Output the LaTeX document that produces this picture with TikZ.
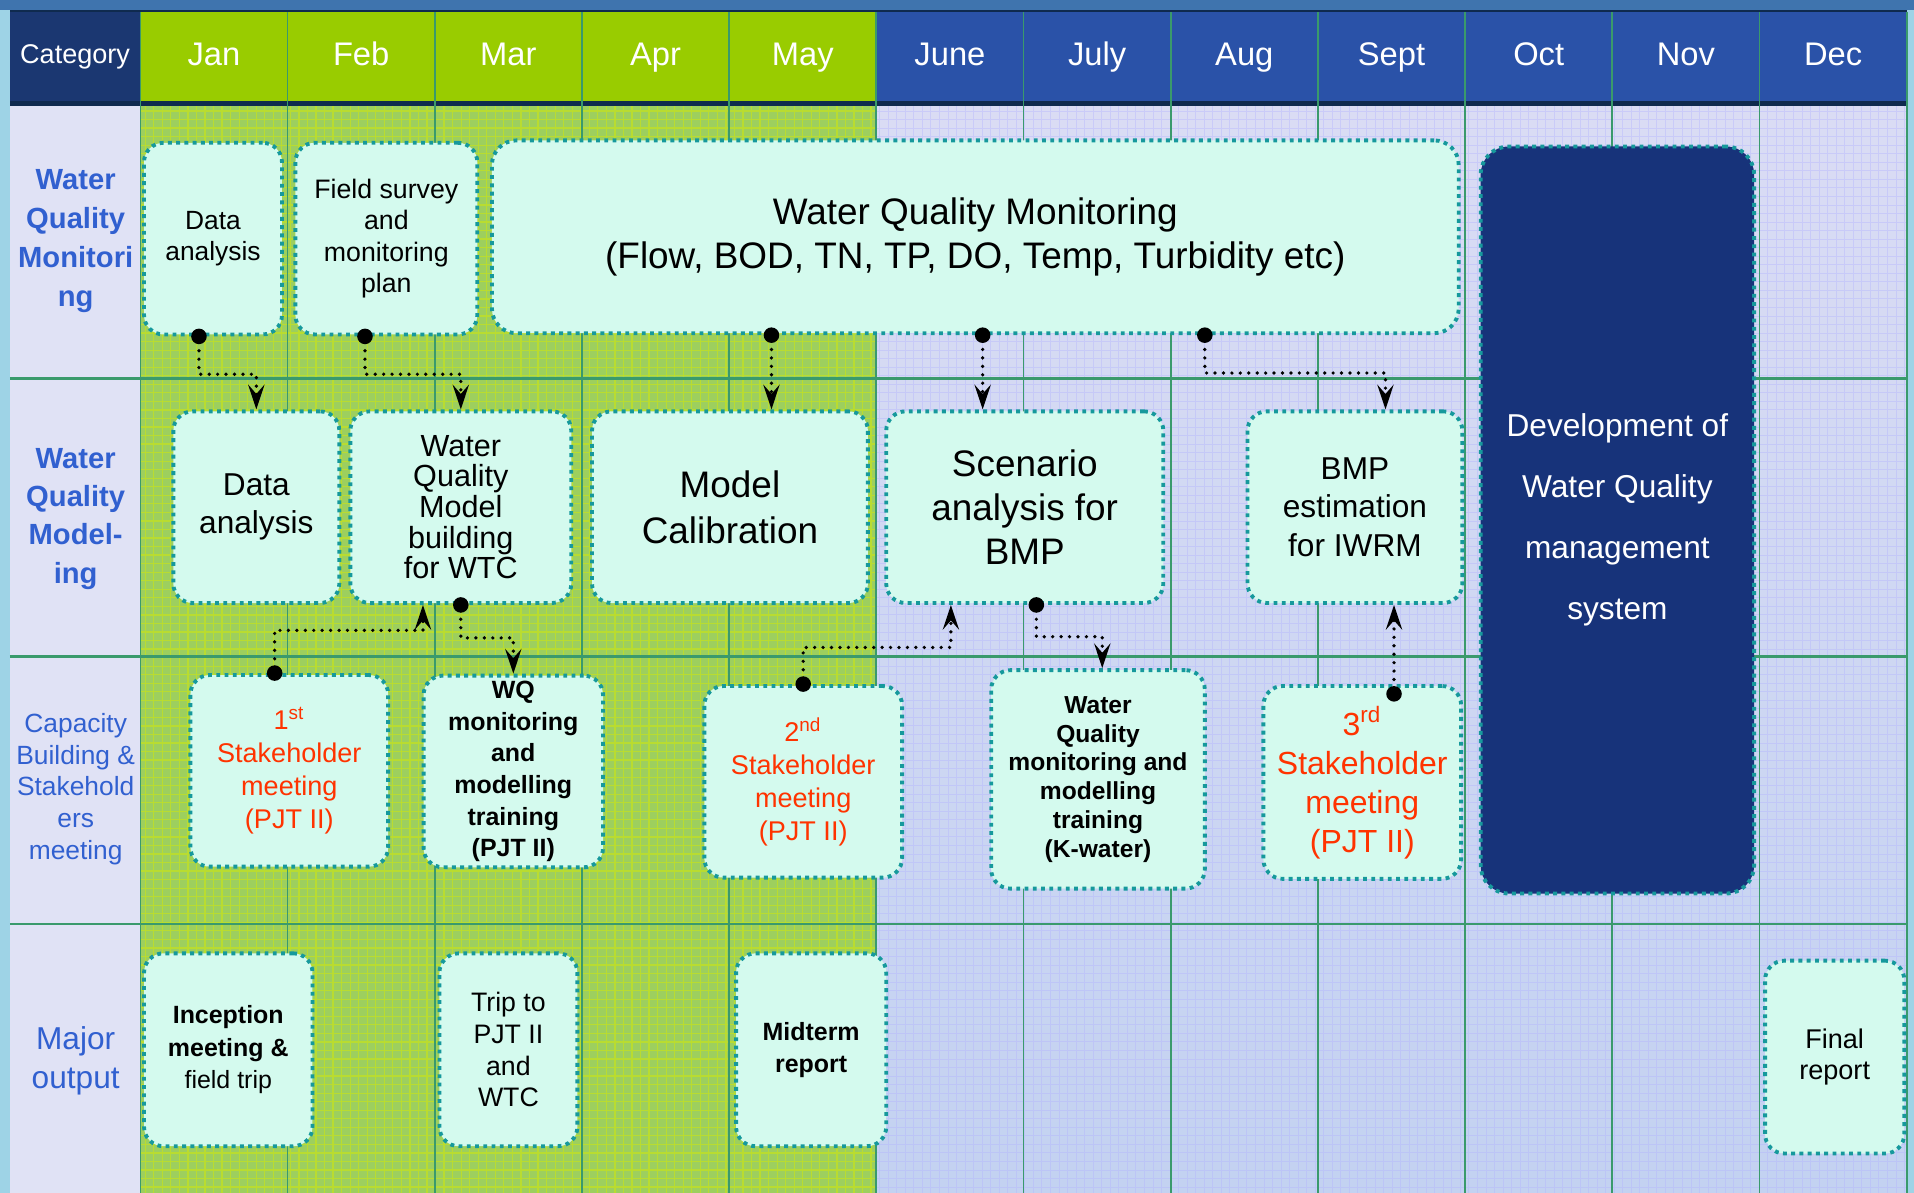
\documentclass[tikz,border=0pt]{standalone}
\usepackage{fontspec}
\setmainfont{Liberation Sans}
\usetikzlibrary{arrows.meta,calc}

\definecolor{hdnavy}{HTML}{1B3771}
\definecolor{hdline}{HTML}{0F2A4E}
\definecolor{hdgreen}{HTML}{99CC00}
\definecolor{hdblue}{HTML}{2A52A8}
\definecolor{bodygreen}{HTML}{9DCF5E}
\definecolor{meshgreen}{HTML}{B9DC30}
\definecolor{bodytop}{HTML}{DADCF4}
\definecolor{bodybot}{HTML}{C3D2F1}
\definecolor{catcol}{HTML}{E0E2F5}
\definecolor{gridline}{HTML}{3A9A6C}
\definecolor{boxfill}{HTML}{D4FAEE}
\definecolor{boxline}{HTML}{16999C}
\definecolor{devfill}{HTML}{17337A}
\definecolor{lblblue}{HTML}{3160D0}
\definecolor{stkred}{HTML}{FF3300}
\definecolor{skyedge}{HTML}{9ED3E6}
\definecolor{topband}{HTML}{3F74AE}

\newcommand{\pxl}{0.012207cm}
\newcommand{\fs}[2]{\fontsize{#1}{#2}\selectfont}

\tikzset{
  box/.style={draw=boxline, fill=boxfill, line width=1.1pt, dash pattern=on 1.1pt off 1.25pt,
    rounded corners=5.5pt, align=center, inner sep=0pt},
  sz/.style 2 args={minimum width=#1*\pxl, minimum height=#2*\pxl},
  link/.style={line width=1.05pt, dash pattern=on 0pt off 2.4pt, line cap=round,
    arrows={Circle[length=4.4pt]-Stealth[length=7pt,width=4.6pt,inset=2.6pt]}, shorten <=-2.2pt},
  month/.style={text=white, font=\fs{9.3}{11}, anchor=base},
  rowlbl/.style={text=lblblue, align=center},
}

\begin{document}
\begin{tikzpicture}[x=\pxl, y=-\pxl]
\useasboundingbox (0,0) rectangle (1568,977);
\fill[skyedge] (0,0) rectangle (1568,977);
\fill[topband] (0,0) rectangle (1568,8);

% header row
\fill[hdnavy] (8,8) rectangle (115,85);
\fill[hdgreen] (115,10) rectangle (718,83);
\fill[hdblue] (718,10) rectangle (1562,83);
\fill[hdline] (8,8) rectangle (1562,10);
\fill[hdline] (8,83) rectangle (1562,87);

% body
\fill[catcol] (8,87) rectangle (115,977);
\fill[bodygreen] (115,87) rectangle (718,977);
\shade[top color=bodytop, bottom color=bodybot] (718,87) rectangle (1562,977);
\draw[meshgreen, line width=0.35pt, step=0.0854cm] (115,977) grid (718,87);
\draw[blue!30, line width=0.25pt, opacity=0.4, step=0.0854cm] (718,977) grid (1562,87);

% month and row lines
\foreach \i in {0,...,12}
  \draw[gridline, line width=0.5pt] ({115+120.58*\i},10) -- ({115+120.58*\i},977);
\foreach \yy in {310,538,757}
  \draw[gridline, line width=0.8pt] (8,\yy) -- (1562,\yy);

% header text
\node[text=white, font=\fs{7.7}{9}, anchor=base] (cat) at (61.5,52) {Category};
\foreach \m [count=\i] in {Jan,Feb,Mar,Apr,May,June,July,Aug,Sept,Oct,Nov,Dec}
  \node[month] (h\i) at ({115+120.58*(\i-0.5)},54) {\m};

% row labels
\node[rowlbl, font=\bfseries\fs{8.3}{11.1}] (r1) at (62,197.5) {Water\\Quality\\Monitori\\ng};
\node[rowlbl, font=\bfseries\fs{8.3}{10.9}] (r2) at (62,425) {Water\\Quality\\Model-\\ing};
\node[rowlbl, font=\fs{7.5}{9}] (r3) at (62,646.5) {Capacity\\Building \&\\Stakehold\\ers\\meeting};
\node[rowlbl, font=\fs{9}{11.1}] (r4) at (62,869) {Major\\output};

% monitoring row
\node[box, sz={113}{157}, font=\fs{7.5}{9}] (a1) at (174.5,195.5) {Data\\analysis};
\node[box, sz={149}{157}, font=\fs{7.6}{9}] (a2) at (316.5,195.5) {Field survey\\and\\monitoring\\plan};
\node[box, sz={792}{158}, rounded corners=7pt, font=\fs{10.5}{12.5}] (a3) at (799,194)
  {Water Quality Monitoring\\(Flow, BOD, TN, TP, DO, Temp, Turbidity etc)};
\node[box, sz={224}{612}, fill=devfill, rounded corners=8pt, text=white, font=\fs{9}{17.4}] (dev) at (1325,426)
  {Development of\\Water Quality\\management\\system};

% modeling row
\node[box, sz={136}{157}, font=\fs{9}{10.8}] (b1) at (210,415.5) {Data\\analysis};
\node[box, sz={181}{157}, font=\fs{8.7}{8.7}] (b2) at (377.5,415.5) {Water\\Quality\\Model\\building\\for WTC};
\node[box, sz={226}{157}, font=\fs{10.5}{12.9}] (b3) at (598,415.5) {Model\\Calibration};
\node[box, sz={227}{157}, font=\fs{10.5}{12.5}] (b4) at (839.5,415.5) {Scenario\\analysis for\\BMP};
\node[box, sz={176}{157}, font=\fs{9}{10.9}] (b5) at (1110,415.5) {BMP\\estimation\\for IWRM};

% capacity building row
\node[box, sz={162}{157}, text=stkred, font=\fs{7.7}{9.4}] (c1) at (237,631.5)
  {1\textsuperscript{st}\\Stakeholder\\meeting\\(PJT II)};
\node[box, sz={147}{157}, font=\bfseries\fs{7.1}{9}] (c2) at (420.5,632)
  {WQ\\monitoring\\and\\modelling\\training\\(PJT II)};
\node[box, sz={162}{157}, text=stkred, font=\fs{7.7}{9.4}] (c3) at (658,640.5)
  {2\textsuperscript{nd}\\Stakeholder\\meeting\\(PJT II)};
\node[box, sz={175}{179}, font=\bfseries\fs{7}{8.2}] (c4) at (899.5,638.5)
  {Water\\Quality\\monitoring and\\modelling\\training\\(K-water)};
\node[box, sz={162}{158}, text=stkred, font=\fs{9.1}{11.1}] (c5) at (1116,641)
  {3\textsuperscript{rd}\\Stakeholder\\meeting\\(PJT II)};

% major output row
\node[box, sz={138}{158}, font=\fs{7.1}{9.2}] (d1) at (187,860)
  {\textbf{Inception}\\\textbf{meeting \&}\\field trip};
\node[box, sz={113}{158}, font=\fs{7.6}{9}] (d2) at (416.5,860) {Trip to\\PJT II\\and\\WTC};
\node[box, sz={123}{158}, font=\bfseries\fs{7.1}{9}] (d3) at (664.5,860) {Midterm\\report};
\node[box, sz={114}{158}, font=\fs{7.7}{9}] (d4) at (1503,866) {Final\\report};

% links
\coordinate (s1) at ($(a1.south)+(-11.5,0)$);
\coordinate (s2) at ($(a2.south)+(-17.5,0)$);
\coordinate (s3) at ($(a3.south)+(-167,0)$);
\coordinate (s4) at ($(a3.south)+(6,0)$);
\coordinate (s5) at ($(a3.south)+(188,0)$);
\coordinate (s6) at ($(c1.north)+(-12,0)$);
\coordinate (s9) at ($(b4.south)+(9.5,0)$);
\coordinate (s10) at ($(c5.north)+(26,8)$);

\draw[link] (s1) -- ++(0,31) -| (b1.north);
\draw[link] (s2) -- ++(0,31) -| (b2.north);
\draw[link] (s3) -- (s3 |- b3.north);
\draw[link] (s4) -- (s4 |- b4.north);
\draw[link] (s5) -- ++(0,31) -| ($(b5.north)+(25,0)$);
\draw[link] (s6) -- ++(0,-35) -| ($(b2.south)+(-31,0)$);
\draw[link] (b2.south) -- ++(0,27) -| (c2.north);
\draw[link] (c3.north) -- ++(0,-30) -| ($(b4.south)+(-60.5,0)$);
\draw[link] (s9) -- ++(0,26) -| ($(c4.north)+(3.5,0)$);
\draw[link] (s10) -- (s10 |- b5.south);
\end{tikzpicture}
\end{document}
